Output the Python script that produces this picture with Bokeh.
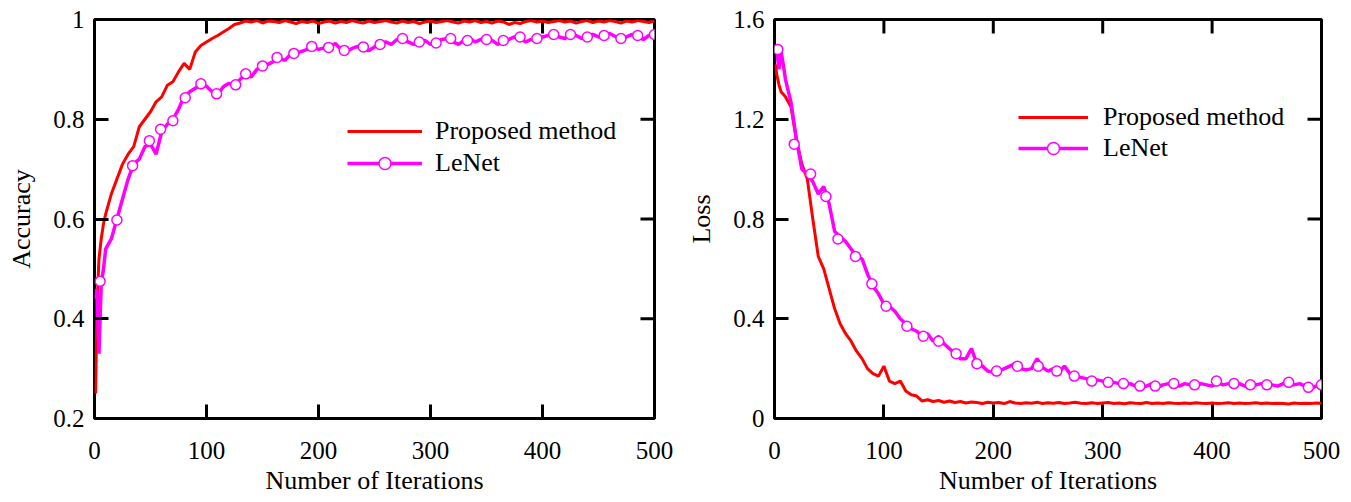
from bokeh.plotting import figure
from bokeh.layouts import row
from bokeh.models import (Range1d, FixedTicker, Legend, LegendItem,
                          NumeralTickFormatter)
from bokeh.embed import file_html
from bokeh.resources import INLINE

# ---------------- data ----------------
iters = [1, 2, 3, 4, 6, 8] + list(range(10, 501, 5))

acc_proposed = [0.25, 0.40, 0.47, 0.52, 0.56, 0.59,
    0.61, 0.65, 0.68, 0.71, 0.73, 0.745, 0.785, 0.80, 0.815, 0.835,
    0.845, 0.868, 0.875, 0.895, 0.912, 0.90, 0.935, 0.948, 0.955, 0.962,
    0.968, 0.975, 0.982, 0.99, 0.993, 0.997, 0.995, 0.998, 0.993, 0.997,
    0.996, 0.994, 0.998, 0.995, 0.992, 0.996, 0.994, 0.997, 0.992, 0.995,
    0.997, 0.993, 0.996, 0.994, 0.998, 0.995, 0.993, 0.997, 0.994, 0.996,
    0.998, 0.995, 0.993, 0.997, 0.994, 0.996, 0.992, 0.995, 0.997, 0.994,
    0.996, 0.998, 0.995, 0.993, 0.997, 0.995, 0.998, 0.994, 0.996, 0.993,
    0.997, 0.995, 0.990, 0.994, 0.992, 0.996, 0.998, 0.995, 0.997, 0.994,
    0.996, 0.998, 0.995, 0.997, 0.993, 0.996, 0.998, 0.994, 0.997, 0.995,
    0.998, 0.996, 0.993, 0.997, 0.995, 0.998, 0.996, 0.994, 0.997]

acc_lenet = [0.44, 0.46, 0.40, 0.33, 0.47, 0.50,
    0.54, 0.56, 0.60, 0.64, 0.68, 0.71, 0.72, 0.745, 0.75, 0.73,
    0.775, 0.79, 0.80, 0.82, 0.845, 0.855, 0.862, 0.871, 0.866, 0.855,
    0.85, 0.865, 0.872, 0.868, 0.88, 0.89, 0.885, 0.90, 0.906, 0.91,
    0.916, 0.922, 0.918, 0.93, 0.932, 0.936, 0.94, 0.946, 0.94, 0.943,
    0.945, 0.952, 0.94, 0.936, 0.942, 0.946, 0.94, 0.938, 0.945, 0.95,
    0.955, 0.95, 0.96, 0.962, 0.955, 0.95, 0.955, 0.958, 0.95, 0.955,
    0.96, 0.962, 0.955, 0.95, 0.958, 0.962, 0.955, 0.96, 0.965, 0.958,
    0.95, 0.955, 0.96, 0.965, 0.962, 0.955, 0.96, 0.958, 0.965, 0.968,
    0.972, 0.965, 0.962, 0.97, 0.968, 0.962, 0.965, 0.97, 0.965, 0.968,
    0.972, 0.966, 0.96, 0.965, 0.97, 0.965, 0.96, 0.968, 0.97]

acc_mark_x = [5, 20, 34, 49, 59, 70, 81, 95, 109, 126, 135, 150, 163, 178, 194,
              209, 223, 240, 255, 275, 290, 305, 318, 333, 350, 365, 380, 395,
              410, 425, 440, 455, 470, 485, 500]
acc_mark_y = [0.475, 0.598, 0.707, 0.757, 0.78, 0.797, 0.843, 0.871, 0.851, 0.869,
              0.891, 0.907, 0.924, 0.932, 0.946, 0.944, 0.938, 0.945, 0.95, 0.962,
              0.955, 0.953, 0.962, 0.958, 0.96, 0.958, 0.965, 0.962, 0.97, 0.97,
              0.965, 0.968, 0.962, 0.968, 0.97]

loss_proposed = [1.42, 1.38, 1.36, 1.34, 1.31, 1.30,
    1.29, 1.25, 1.12, 1.02, 0.96, 0.80, 0.65, 0.60, 0.52, 0.44,
    0.38, 0.34, 0.31, 0.27, 0.24, 0.20, 0.18, 0.17, 0.21, 0.15,
    0.14, 0.15, 0.11, 0.095, 0.09, 0.07, 0.075, 0.068, 0.072, 0.065,
    0.07, 0.064, 0.068, 0.062, 0.066, 0.064, 0.06, 0.065, 0.062, 0.064,
    0.06, 0.068, 0.062, 0.06, 0.063, 0.061, 0.065, 0.06, 0.063, 0.061,
    0.064, 0.06, 0.062, 0.065, 0.061, 0.06, 0.063, 0.06, 0.062, 0.064,
    0.06, 0.062, 0.059, 0.063, 0.061, 0.06, 0.064, 0.06, 0.062, 0.06,
    0.063, 0.061, 0.06, 0.062, 0.06, 0.063, 0.061, 0.06, 0.062, 0.06,
    0.061, 0.063, 0.06, 0.062, 0.06, 0.061, 0.063, 0.06, 0.062, 0.06,
    0.061, 0.06, 0.058, 0.062, 0.06, 0.061, 0.06, 0.062, 0.061]

loss_lenet = [1.47, 1.48, 1.44, 1.40, 1.47, 1.42,
    1.36, 1.27, 1.12, 1.0, 0.98, 0.95, 0.90, 0.93, 0.86, 0.75,
    0.73, 0.71, 0.68, 0.65, 0.64, 0.58, 0.53, 0.50, 0.46, 0.45,
    0.43, 0.40, 0.38, 0.36, 0.35, 0.33, 0.34, 0.31, 0.33, 0.30,
    0.28, 0.26, 0.24, 0.24, 0.28, 0.22, 0.21, 0.19, 0.185, 0.19,
    0.20, 0.21, 0.22, 0.20, 0.195, 0.20, 0.24, 0.205, 0.19, 0.20,
    0.185, 0.21, 0.18, 0.17, 0.165, 0.16, 0.15, 0.155, 0.15, 0.14,
    0.145, 0.14, 0.135, 0.14, 0.13, 0.125, 0.13, 0.14, 0.125, 0.135,
    0.14, 0.135, 0.13, 0.14, 0.135, 0.13, 0.14, 0.135, 0.13, 0.145,
    0.135, 0.14, 0.135, 0.14, 0.13, 0.125, 0.135, 0.14, 0.125, 0.135,
    0.13, 0.14, 0.145, 0.135, 0.14, 0.13, 0.12, 0.13, 0.135]

loss_mark_x = [3, 18, 33, 47, 58, 74, 89, 102, 121, 136, 150, 166, 185, 203, 222,
               241, 258, 274, 290, 305, 319, 334, 348, 365, 384, 404, 420, 435,
               450, 470, 488, 500]
loss_mark_y = [1.48, 1.10, 0.98, 0.89, 0.72, 0.65, 0.54, 0.45, 0.37, 0.33, 0.31,
               0.26, 0.22, 0.19, 0.21, 0.21, 0.19, 0.17, 0.15, 0.145, 0.14, 0.13,
               0.13, 0.14, 0.135, 0.15, 0.14, 0.135, 0.135, 0.145, 0.125, 0.135]

x_ticks = [0, 100, 200, 300, 400, 500]
acc_ticks = [0.2, 0.4, 0.6, 0.8, 1.0]
loss_ticks = [0, 0.4, 0.8, 1.2, 1.6]

labels = ["Proposed method", "LeNet"]
RED = "#ff0000"
MAGENTA = "#ff00ff"
FONT = "Liberation Serif"
TICK_PX = 14


def style_axis(ax, ticks):
    ax.ticker = FixedTicker(ticks=ticks)
    ax.formatter = NumeralTickFormatter(format="0.[0]")
    ax.major_tick_in = TICK_PX
    ax.major_tick_out = 0
    ax.major_tick_line_width = 3
    ax.major_tick_line_color = "black"
    ax.minor_tick_line_color = None
    ax.axis_line_color = None
    ax.major_label_text_font = FONT
    ax.major_label_text_font_size = "25px"
    ax.major_label_text_color = "black"
    ax.axis_label_text_font = FONT
    ax.axis_label_text_font_size = "26px"
    ax.axis_label_text_font_style = "normal"
    ax.axis_label_text_color = "black"


def make_panel(width, height, ml, mr, mt, mb, ymin, ymax, yticks, ylabel,
               y_prop, y_len, mx, my, x_std, x_lab_std, y_lab_std,
               leg_loc, glyph_w, leg_standoff, leg_spacing):
    p = figure(width=width, height=height, x_range=Range1d(0, 500),
               y_range=Range1d(ymin, ymax), output_backend="svg",
               toolbar_location=None, title_location=None,
               min_border_left=ml, min_border_right=mr,
               min_border_top=mt, min_border_bottom=mb)
    p.grid.visible = False
    p.outline_line_color = "black"
    p.outline_line_width = 3
    p.background_fill_color = "white"
    p.border_fill_color = "white"

    style_axis(p.xaxis[0], x_ticks)
    style_axis(p.yaxis[0], yticks)
    p.xaxis[0].axis_label = "Number of Iterations"
    p.xaxis[0].major_label_standoff = x_std
    p.xaxis[0].axis_label_standoff = x_lab_std
    p.yaxis[0].axis_label = ylabel
    p.yaxis[0].major_label_standoff = 10
    p.yaxis[0].axis_label_standoff = y_lab_std

    # mirrored inward ticks on the top and right edges of the frame
    frame_w = width - ml - mr
    frame_h = height - mt - mb
    lx = TICK_PX * 500 / frame_w
    ly = TICK_PX * (ymax - ymin) / frame_h
    inner_x = x_ticks[1:-1]
    inner_y = yticks[1:-1]
    p.segment(x0=inner_x, x1=inner_x, y0=[ymax] * len(inner_x),
              y1=[ymax - ly] * len(inner_x), line_color="black", line_width=3)
    p.segment(x0=[500] * len(inner_y), x1=[500 - lx] * len(inner_y),
              y0=inner_y, y1=inner_y, line_color="black", line_width=3)

    r1 = p.line(iters, y_prop, line_color=RED, line_width=3)
    r2 = p.line(iters, y_len, line_color=MAGENTA, line_width=3.5)
    r3 = p.scatter(mx, my, marker="circle", size=10, fill_color="white",
                   line_color=MAGENTA, line_width=1.5)

    leg = Legend(items=[LegendItem(label=labels[0], renderers=[r1]),
                        LegendItem(label=labels[1], renderers=[r2, r3])],
                 location=leg_loc, glyph_width=glyph_w, glyph_height=30,
                 label_height=30, spacing=leg_spacing, label_standoff=leg_standoff,
                 padding=0, margin=0, border_line_color=None,
                 background_fill_alpha=0, label_text_font=FONT,
                 label_text_font_size="26px", label_text_color="black")
    p.add_layout(leg)
    return p


p1 = make_panel(682, 501, 94, 28, 19, 83, 0.2, 1.0, acc_ticks, "Accuracy",
                acc_proposed, acc_lenet, acc_mark_x, acc_mark_y,
                23, 4, 14, (253, 240), 75, 13, 2)
p2 = make_panel(660, 501, 92, 21, 19, 83, 0.0, 1.6, loss_ticks, "Loss",
                loss_proposed, loss_lenet, loss_mark_x, loss_mark_y,
                23, 4, 14, (244, 255), 70, 15, 1)

layout = row(p1, p2)
open("out.html", "w").write(file_html(layout, INLINE))
